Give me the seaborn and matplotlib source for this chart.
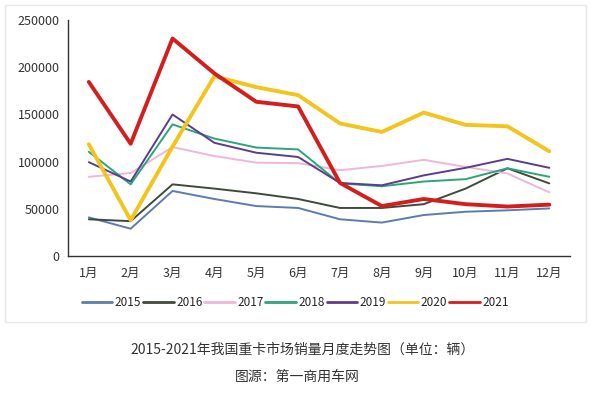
import matplotlib
matplotlib.use("Agg")
import matplotlib.pyplot as plt
from matplotlib.patches import Rectangle
import seaborn as sns
import pandas as pd

months = ["1月", "2月", "3月", "4月", "5月", "6月", "7月", "8月", "9月", "10月", "11月", "12月"]

s2015 = [41000, 29000, 69000, 60500, 53000, 51000, 39000, 35500, 43500, 47000, 48500, 50500]
s2016 = [39000, 37000, 76000, 71500, 66500, 60500, 51000, 51000, 55000, 71500, 93000, 77000]
s2017 = [84000, 88000, 115500, 106000, 99000, 98500, 91000, 95500, 102000, 94500, 87500, 67500]
s2018 = [110500, 76000, 139500, 124500, 115000, 113000, 77000, 74000, 79000, 81500, 93000, 84000]
s2019 = [99500, 79000, 150000, 120000, 109500, 105000, 77500, 75000, 85500, 93500, 103000, 93500]
s2020 = [118500, 38000, 116000, 190500, 179000, 170500, 140500, 131500, 152000, 139000, 137500, 111000]
s2021 = [184500, 119000, 230500, 193500, 163500, 158500, 77500, 53000, 60500, 55000, 52500, 54500]

years = ["2015", "2016", "2017", "2018", "2019", "2020", "2021"]
series = [s2015, s2016, s2017, s2018, s2019, s2020, s2021]
colors = ["#5b7cae", "#3e4a3c", "#f0b6d6", "#2ca57a", "#5b3d8c", "#f3c41c", "#d41e1e"]
widths = [1.4, 1.4, 1.4, 1.4, 1.4, 2.8, 2.8]

sns.set_style("white")
plt.rcParams["font.family"] = ["Noto Sans CJK SC", "DejaVu Sans"]

fig = plt.figure(figsize=(6.06, 3.94), dpi=100)
ax = fig.add_axes([0.112, 0.350, 0.829, 0.599])

x = list(range(len(months)))
for yr, vals, c, w in zip(years, series, colors, widths):
    df = pd.DataFrame({"m": x, "v": vals})
    sns.lineplot(data=df, x="m", y="v", ax=ax, color=c, linewidth=w, label=yr)

ax.set_xlim(-0.5, 11.5)
ax.set_ylim(0, 250000)
ax.set_yticks(range(0, 250001, 50000))
ax.set_yticklabels([str(v) for v in range(0, 250001, 50000)], fontsize=9, color="#333333")
ax.set_xticks([i - 0.5 for i in range(13)])
ax.set_xticklabels([])
ax.set_xticks(x, minor=True)
ax.set_xticklabels(months, minor=True, fontsize=9, color="#333333")
ax.tick_params(axis="x", which="major", direction="out", length=4, color="#333333", width=1)
ax.tick_params(axis="x", which="minor", length=0, pad=8)
ax.tick_params(axis="y", direction="out", length=4, color="#333333", width=1, pad=2)
ax.set_xlabel("")
ax.set_ylabel("")
for side in ["top", "right"]:
    ax.spines[side].set_visible(False)
for side in ["left", "bottom"]:
    ax.spines[side].set_color("#333333")
    ax.spines[side].set_linewidth(1)

leg = ax.legend(loc="center", bbox_to_anchor=(0.487, 0.233), bbox_transform=fig.transFigure,
                ncol=7, frameon=False, fontsize=8.5, handlelength=2.6, handletextpad=0.2,
                columnspacing=0.15)
for line in leg.get_lines():
    line.set_linewidth(2)

fig.patches.append(Rectangle((5 / 606, 1 - 322 / 394), 581 / 606, 317 / 394,
                             transform=fig.transFigure, fill=False,
                             edgecolor="#e6e6e6", linewidth=1))

fig.text(0.5, 1 - 350 / 394, "2015-2021年我国重卡市场销量月度走势图（单位：辆）",
         ha="center", va="center", fontsize=10, color="#333333")
fig.text(0.49, 1 - 377 / 394, "图源：第一商用车网",
         ha="center", va="center", fontsize=10, color="#333333")

fig.savefig("out.png", dpi=100)
